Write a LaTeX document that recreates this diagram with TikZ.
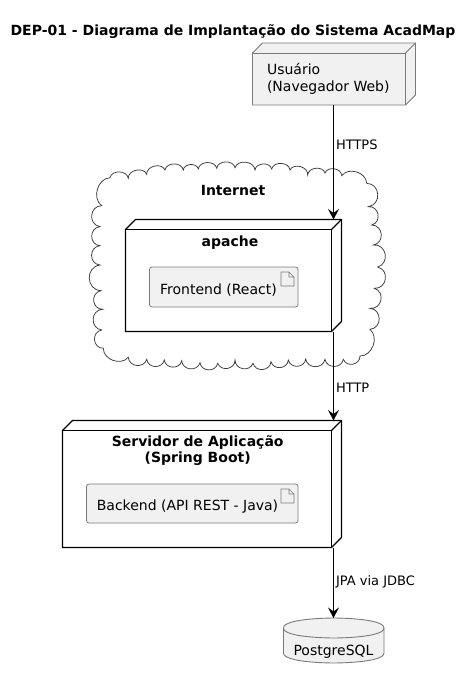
\documentclass[tikz,border=0pt]{standalone}
\usepackage{fontspec}
\setmainfont{DejaVu Sans}
\usetikzlibrary{arrows.meta}
\definecolor{nodefill}{HTML}{F1F1F1}
\definecolor{ink}{HTML}{181818}
\definecolor{edgegray}{HTML}{7A7A7A}
\newcommand{\threedbox}[2]{%
  \draw[#2] (#1.south west) -- ([yshift=-10pt]#1.north west) -- ([xshift=10pt]#1.north west) -- (#1.north east) -- ([yshift=10pt]#1.south east) -- ([xshift=-10pt]#1.south east) -- cycle;
  \draw[#2,fill=none] ([yshift=-10pt]#1.north west) -- ([shift={(-10pt,-10pt)}]#1.north east) -- ([xshift=-10pt]#1.south east);
  \draw[#2,fill=none] ([shift={(-10pt,-10pt)}]#1.north east) -- (#1.north east);
}
\newcommand{\artifacticon}[1]{%
  \draw[edgegray,line width=0.7pt] (#1.north east) ++(-17pt,-5pt) coordinate (ic)
    (ic) -- ++(8pt,0) -- ++(5pt,-5pt) -- ++(0,-9pt) -- ++(-13pt,0) -- cycle
    (ic) ++(8pt,0) -- ++(0,-5pt) -- ++(5pt,0);
}
\tikzset{
  x=1pt,y=-1pt,
  bbox/.style={inner sep=0pt,outer sep=0pt,rectangle},
  soft3d/.style={draw=edgegray,line width=0.9pt,fill=nodefill},
  hard3d/.style={draw=black,line width=1.1pt,fill=white},
  artifactbox/.style={bbox,draw=edgegray,line width=0.8pt,fill=nodefill,rounded corners=2.5pt},
  txt/.style={inner sep=0pt,outer sep=0pt,font=\fontsize{14}{17}\selectfont,text=black},
  boldtxt/.style={inner sep=0pt,outer sep=0pt,font=\fontsize{14}{16.2}\selectfont\bfseries,text=black},
  conn/.style={draw=black,line width=1.1pt,-{Stealth[length=10.5pt,width=11pt,inset=4pt]}},
  edgelab/.style={inner sep=0pt,outer sep=0pt,anchor=base west,xshift=2.5pt,font=\fontsize{13}{15}\selectfont,text=black},
  cloudline/.style={draw=ink!85!white,line width=0.75pt,fill=white},
  tb/.style={bend left=80,looseness=1.15},
  sb/.style={bend left=85,looseness=1.5},
  bb/.style={bend left=80,looseness=1.35},
  cb/.style={bend left=70,looseness=1.1}
}
\begin{document}
\begin{tikzpicture}
\useasboundingbox (0,0) rectangle (472,679);
\node[anchor=base,inner sep=0pt,font=\fontsize{14}{16}\selectfont\bfseries] (title) at (233,36) {DEP-01 - Diagrama de Implantação do Sistema AcadMap};
% cloud
\coordinate (cloudfirst) at (110,177.7);
\draw[cloudline] (cloudfirst)
 to[tb] (128.3,178.3) to[tb] (146.7,174.3) to[tb] (165,170) to[tb] (183.3,170) to[tb] (198.3,169) to[tb] (216.7,168.3) to[tb] (235,167.7)
 to[tb] (255,170) to[tb] (271.7,169) to[tb] (290,170) to[tb] (307.7,175) to[tb] (325,173) to[tb] (341.7,175.7)
 to[cb] (366.7,183.3) to[sb] (368.3,206.7) to[sb] (371.7,225) to[sb] (373.3,245) to[sb] (377.7,267) to[sb] (374.3,288.3) to[sb] (370,308.3) to[sb] (370,329.3) to[cb] (360,356)
 to[bb] (343.3,359.3) to[bb] (325,359.3) to[bb] (305.7,359) to[bb] (288.3,360) to[bb] (271,361.7) to[bb] (253,363.3) to[bb] (235,360) to[bb] (217.7,363.3) to[bb] (200,362.7) to[bb] (181.7,360.7) to[bb] (164.3,360) to[bb] (146.7,359.3) to[bb] (128.3,357.3)
 to[cb] (103.3,348.3) to[sb] (101.7,330) to[sb] (102.7,309.3) to[sb] (101,290.7) to[sb] (100,265) to[sb] (100,245.7) to[sb] (100,226.7) to[sb] (101.7,205.7)
 to[cb] (cloudfirst) -- cycle;
\node[boldtxt,anchor=base] (internetlab) at (233,195) {Internet};
% user
\node[bbox,minimum width=163pt,minimum height=62pt] (user) at (334,74) {};
\threedbox{user}{soft3d}
\node[txt,anchor=north west,align=left] (userlab) at (267,63.5) {Usuário\\(Navegador Web)};
% apache
\node[bbox,minimum width=216pt,minimum height=112pt] (apache) at (233.5,275.5) {};
\threedbox{apache}{hard3d}
\node[boldtxt,anchor=base] (apachelab) at (230,246) {apache};
\node[artifactbox,minimum width=148.5pt,minimum height=40pt] (frontend) at (223.75,287) {};
\artifacticon{frontend}
\node[txt,anchor=base] (frontendlab) at (218.5,294) {Frontend (React)};
% server
\node[bbox,minimum width=279pt,minimum height=127pt] (server) at (202,484) {};
\threedbox{server}{hard3d}
\node[boldtxt,anchor=north,align=center] (serverlab) at (197.7,435.5) {Servidor de Aplicação\\(Spring Boot)};
\node[artifactbox,minimum width=211.5pt,minimum height=39pt] (backend) at (192.25,503.5) {};
\artifacticon{backend}
\node[txt,anchor=base] (backendlab) at (187.5,510) {Backend (API REST - Java)};
% database
\node[bbox,minimum width=100.5pt,minimum height=45pt] (db) at (333.75,640.5) {};
\draw[soft3d] (db.west |- 0,628) .. controls (db.west |- 0,618) and (db.north) .. (db.north)
  .. controls (db.north) and (db.east |- 0,618) .. (db.east |- 0,628)
  -- (db.east |- 0,653) .. controls (db.east |- 0,663) and (db.south) .. (db.south)
  .. controls (db.south) and (db.west |- 0,663) .. (db.west |- 0,653) -- cycle;
\draw[soft3d,fill=none] (db.west |- 0,628) .. controls (db.west |- 0,638) and (db.center |- 0,638) .. (db.center |- 0,638)
  .. controls (db.center |- 0,638) and (db.east |- 0,638) .. (db.east |- 0,628);
\node[txt,anchor=base] (dblab) at (333.5,655) {PostgreSQL};
% connectors
\coordinate (axis) at (333.5,0);
\draw[conn] (user.south -| axis) -- node[edgelab,pos=0.393] (l1) {HTTPS} (apache.north -| axis);
\draw[conn] (apache.south -| axis) -- node[edgelab,pos=0.685] (l2) {HTTP} (server.north -| axis);
\draw[conn] (server.south -| axis) -- node[edgelab,pos=0.535] (l3) {JPA via JDBC} (db.north -| axis);
\end{tikzpicture}
\end{document}
